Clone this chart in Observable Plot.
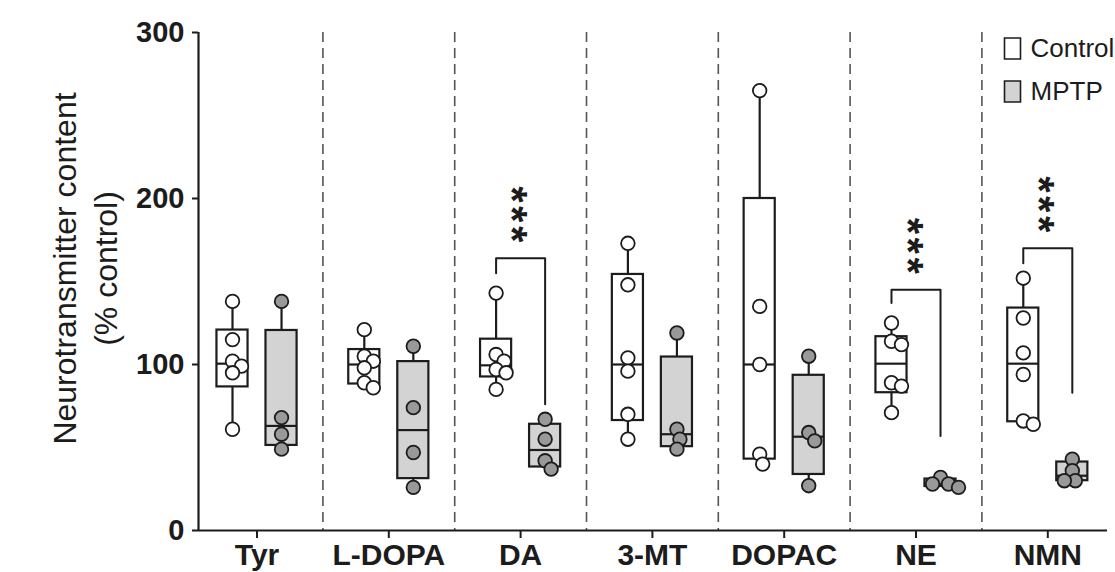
<!DOCTYPE html>
<html>
<head>
<meta charset="utf-8">
<script src="https://cdn.jsdelivr.net/npm/d3@7"></script>
<script src="https://cdn.jsdelivr.net/npm/@observablehq/plot@0.6"></script>
<style>
  html, body { margin: 0; padding: 0; background: #fff; }
  #chart svg { display: block; }
</style>
</head>
<body>
<div id="chart"></div>
<script>
// ---------------- data ----------------
const compounds = ["Tyr", "L-DOPA", "DA", "3-MT", "DOPAC", "NE", "NMN"];
const groups = ["Control", "MPTP"];
const controlValues = [
  [138, 115, 102, 99, 95, 61],
  [121, 105, 102, 98, 89, 86],
  [143, 106, 102, 97, 95, 85],
  [173, 148, 104, 96, 70, 55],
  [265, 135, 100, 46, 40],
  [125, 114, 112, 89, 87, 71],
  [152, 128, 107, 94, 66, 64]
];
const mptpValues = [
  [138, 68, 58, 49],
  [111, 74, 47, 26],
  [67, 55, 42, 37],
  [119, 61, 55, 49],
  [105, 59, 54, 27],
  [32, 28, 28, 26],
  [43, 36, 30, 30]
];
const yTicks = [0, 100, 200, 300];
// significance brackets: compound, bracket top, control end, MPTP end
const sigCompounds = ["DA", "NE", "NMN"];
const sigTop = [164, 145, 170];
const sigControlEnd = [155, 137, 161];
const sigMptpEnd = [76, 57, 83];
const sigLabel = "***";
const yTitle = "Neurotransmitter content\n(% control)";

// ---------------- layout ----------------
const W = 1115, H = 572;
const mL = 198, mR = 8, mT = 32, mB = 42;
const xDomain = [-0.444, 6.453];
const yDomain = [0, 300];
const pxPerX = (W - mL - mR) / (xDomain[1] - xDomain[0]);
const pxPerY = (H - mT - mB) / (yDomain[1] - yDomain[0]);
const groupOffset = 0.186;
const halfBox = 0.118;
const dotR = 6.8;
const ink = "#1c1c1c";

// GraphPad-style quartiles ((n+1)p method)
function quant(sorted, p) {
  const n = sorted.length, pos = (n + 1) * p;
  if (pos <= 1) return sorted[0];
  if (pos >= n) return sorted[n - 1];
  const lo = Math.floor(pos);
  return sorted[lo - 1] + (pos - lo) * (sorted[lo] - sorted[lo - 1]);
}

// simple beeswarm: horizontal pixel offsets, allowing slight overlap like the reference
function swarm(vals) {
  const idx = vals.map((v, k) => k).sort((a, b) => vals[b] - vals[a]);
  const placed = [], offs = new Array(vals.length).fill(0);
  const minD = dotR * 2 * 0.75;
  for (const k of idx) {
    const cands = [0];
    for (let s = 1; s < 60; s++) cands.push(s, -s);
    for (const o of cands) {
      const ok = placed.every(p => {
        const dx = o - p.o, dy = (vals[k] - p.v) * pxPerY;
        return dx * dx + dy * dy >= minD * minD;
      });
      if (ok) { offs[k] = o; placed.push({o, v: vals[k]}); break; }
    }
  }
  return offs;
}

const points = [], boxes = [];
compounds.forEach((c, i) => {
  [[groups[0], controlValues[i], -groupOffset], [groups[1], mptpValues[i], groupOffset]].forEach(([g, vals, off]) => {
    const cx = i + off;
    const offs = swarm(vals);
    vals.forEach((v, k) => points.push({compound: c, group: g, value: v, x: cx + offs[k] / pxPerX}));
    const s = vals.slice().sort((a, b) => a - b);
    boxes.push({compound: c, group: g, x: cx, x1: cx - halfBox, x2: cx + halfBox,
      min: s[0], q1: quant(s, 0.25), med: quant(s, 0.5), q3: quant(s, 0.75), max: s[s.length - 1]});
  });
});

const brackets = [], stars = [];
sigCompounds.forEach((c, j) => {
  const i = compounds.indexOf(c);
  const a = i - groupOffset, b = i + groupOffset;
  brackets.push({z: c, x: a, y: sigControlEnd[j]}, {z: c, x: a, y: sigTop[j]},
                {z: c, x: b, y: sigTop[j]}, {z: c, x: b, y: sigMptpEnd[j]});
  // hair spaces between the asterisks give the stacked look of the reference
  stars.push({x: i, y: sigTop[j], text: sigLabel.split("").join("\u200A")});
});

const separators = compounds.slice(1).map((c, i) => i + 0.5);

const legendSymbol = {draw(ctx) { ctx.rect(-8, -10.5, 16, 21); }};
const fill = g => g === "Control" ? "#ffffff" : "#d3d3d3";
const dotFill = g => g === "Control" ? "#ffffff" : "#999999";

const chart = Plot.plot({
  width: W, height: H,
  marginLeft: mL, marginRight: mR, marginTop: mT, marginBottom: mB,
  x: {domain: xDomain},
  y: {domain: yDomain},
  style: {fontFamily: "'Liberation Sans', Arial, sans-serif", background: "#fff", color: ink},
  marks: [
    Plot.ruleX(separators, {x: d => d, stroke: "#555", strokeWidth: 1.6, strokeDasharray: "10,6"}),
    Plot.ruleX([xDomain[0]], {stroke: ink, strokeWidth: 2.2}),
    Plot.ruleY([0], {stroke: ink, strokeWidth: 2.2}),
    Plot.axisY({ticks: yTicks, tickSize: 6, tickPadding: 8, fontSize: 29, fontWeight: "bold",
      strokeWidth: 2, label: null}),
    Plot.axisX({ticks: compounds.map((c, i) => i), tickFormat: i => compounds[i], tickSize: 8,
      tickPadding: 5, fontSize: 30, fontWeight: "bold", strokeWidth: 2, label: null}),
    // whiskers
    Plot.ruleX(boxes, {x: "x", y1: "q3", y2: "max", stroke: ink, strokeWidth: 2.2}),
    Plot.ruleX(boxes, {x: "x", y1: "min", y2: "q1", stroke: ink, strokeWidth: 2.2}),
    // boxes
    Plot.rect(boxes, {x1: "x1", x2: "x2", y1: "q1", y2: "q3", fill: d => fill(d.group), stroke: ink, strokeWidth: 2.2}),
    Plot.ruleY(boxes, {y: "med", x1: "x1", x2: "x2", stroke: ink, strokeWidth: 2.2}),
    // points
    Plot.dot(points, {x: "x", y: "value", r: dotR, fill: d => dotFill(d.group), stroke: ink, strokeWidth: 1.8}),
    // significance
    Plot.line(brackets, {x: "x", y: "y", z: "z", stroke: ink, strokeWidth: 2}),
    Plot.text(stars, {x: "x", y: "y", text: "text", rotate: 90, textAnchor: "middle", lineAnchor: "middle",
      fontSize: 42, fontWeight: "bold", dx: -9, dy: -44, fill: ink}),
    // y title
    Plot.text([yTitle], {frameAnchor: "left", rotate: -90, textAnchor: "middle", lineAnchor: "middle",
      dx: -115, dy: -13, fontSize: 32, lineHeight: 1.28, fill: ink}),
    // legend
    Plot.dot([groups[0]], {frameAnchor: "top-right", dx: -95, dy: 16, symbol: legendSymbol, fill: "#fff", stroke: ink, strokeWidth: 1.6}),
    Plot.dot([groups[1]], {frameAnchor: "top-right", dx: -95, dy: 59, symbol: legendSymbol, fill: "#d3d3d3", stroke: ink, strokeWidth: 1.6}),
    Plot.text([groups[0]], {frameAnchor: "top-right", dx: -77, dy: 16, text: d => d, textAnchor: "start", lineAnchor: "middle", fontSize: 26, fill: ink}),
    Plot.text([groups[1]], {frameAnchor: "top-right", dx: -77, dy: 59, text: d => d, textAnchor: "start", lineAnchor: "middle", fontSize: 26, fill: ink})
  ]
});
document.getElementById("chart").appendChild(chart);
</script>
</body>
</html>
